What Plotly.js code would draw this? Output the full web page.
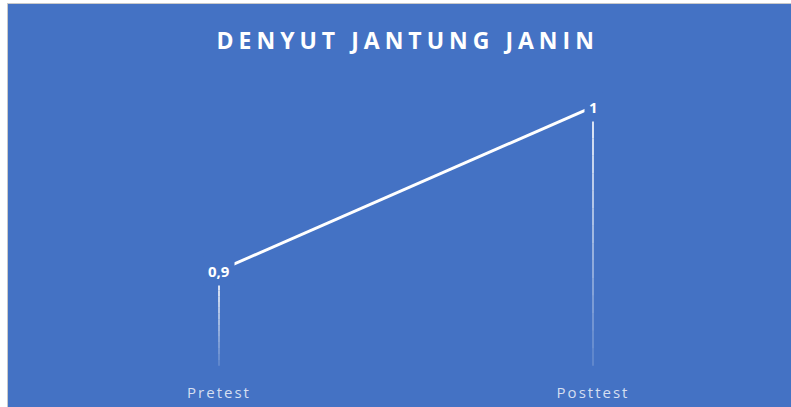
<!DOCTYPE html>
<html><head><meta charset="utf-8">
<script src="https://cdn.plot.ly/plotly-3.0.1.min.js"></script>
<style>
html,body{margin:0;padding:0;background:#fff;width:791px;height:407px;overflow:hidden}
#wrap{position:absolute;left:7px;top:3px;width:784px;height:404px;border-left:1px solid #c9c9c9;border-top:1px solid #c9c9c9;box-sizing:border-box}
#chart{width:783px;height:403px}
.gtitle{letter-spacing:5px}
.xtick text{letter-spacing:2px}
</style></head><body>
<div id="wrap"><div id="chart"></div></div>
<script>
const categories = ["Pretest", "Posttest"];
const values = [0.9, 1];
const titleText = "DENYUT JANTUNG JANIN";

const BLUE = "#4472C4";
const yMin = 0.84, yMax = 1.02;
const gap = 0.0085;
const segs = 14;

const shapes = [];
categories.forEach((c, i) => {
  const top = values[i] - gap, bot = yMin + 0.002;
  for (let k = 0; k < segs; k++) {
    const a = top - (top - bot) * k / segs;
    const b = top - (top - bot) * (k + 1) / segs;
    shapes.push({
      type: "line", xref: "x", yref: "y", x0: i, x1: i, y0: a, y1: b,
      line: {color: "#ffffff", width: 2},
      opacity: 0.8 - 0.65 * k / (segs - 1), layer: "below"
    });
  }
});

const annotations = categories.map((c, i) => ({
  x: i, y: values[i], xref: "x", yref: "y",
  text: String(values[i]).replace(".", ","),
  showarrow: false, bgcolor: BLUE, borderpad: 4,
  font: {family: "Open Sans, sans-serif", size: 15, color: "#ffffff", weight: 700}
}));

const trace = {
  x: categories.map((c, i) => i), y: values, type: "scatter", mode: "lines",
  line: {color: "#ffffff", width: 3}, hoverinfo: "skip"
};

Plotly.newPlot("chart", [trace], {
  width: 783, height: 403,
  paper_bgcolor: BLUE, plot_bgcolor: BLUE,
  margin: {l: 24, r: 11, t: 70, b: 38},
  showlegend: false,
  title: {text: titleText, x: 0.5105, xref: "container", xanchor: "center", y: 0.908, yanchor: "middle",
          font: {family: "Open Sans, sans-serif", size: 23, color: "#ffffff", weight: 700}},
  xaxis: {range: [-0.5, 1.5], tickvals: [0, 1], ticktext: categories,
          showgrid: false, zeroline: false, showline: false,
          ticks: "outside", ticklen: 10, tickcolor: "rgba(0,0,0,0)",
          tickfont: {family: "Open Sans, sans-serif", size: 15, color: "rgba(255,255,255,0.78)"}},
  yaxis: {range: [yMin, yMax], visible: false, showgrid: false, zeroline: false},
  shapes: shapes, annotations: annotations
}, {displayModeBar: false, staticPlot: true});
</script></body></html>
